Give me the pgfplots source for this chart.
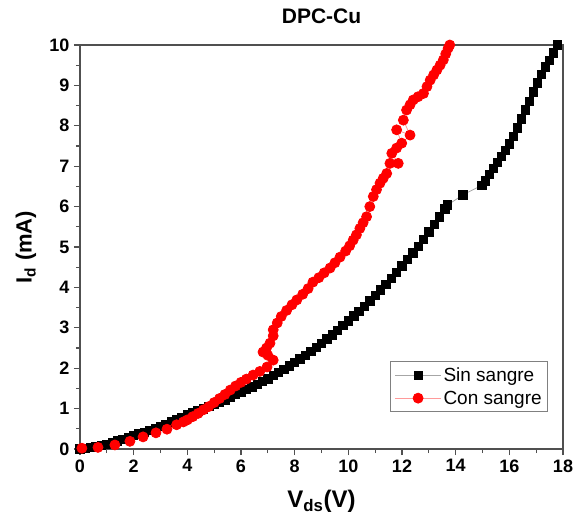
\documentclass[border=0pt]{standalone}
\usepackage{fontspec}
\setmainfont{Liberation Sans}
\usepackage{pgfplots}
\pgfplotsset{compat=1.18}

\definecolor{axisgray}{HTML}{505050}
\definecolor{linkred}{HTML}{FF9A9A}

\begin{document}
\begin{tikzpicture}
  \begin{axis}[
      name=ax,
      scale only axis,
      width=483pt, height=404pt,
      xmin=0, xmax=18, ymin=0, ymax=10,
      xtick={0,2,...,18}, ytick={0,1,...,10},
      minor x tick num=1, minor y tick num=1,
      tick pos=left, tick align=outside,
      major tick length=6pt, minor tick length=4pt,
      axis line style={axisgray, line width=1.2pt},
      every tick/.style={axisgray, line width=1.2pt},
      /pgf/number format/assume math mode=true,
      ticklabel style={font=\fontsize{18}{18}\selectfont\bfseries},
      xticklabel style={yshift=-1pt},
      yticklabel style={xshift=-1pt},
      title={DPC-Cu},
      title style={font=\fontsize{21}{21}\selectfont\bfseries,
        at={(axis description cs:0.5,1)}, anchor=center, yshift=23pt},
      xlabel={V\textsubscript{ds}(V)},
      xlabel style={font=\fontsize{24}{24}\selectfont\bfseries,
        at={(axis description cs:0.5,-0.13)}, anchor=center},
      ylabel={I\textsubscript{d} (mA)},
      ylabel style={font=\fontsize{22}{22}\selectfont\bfseries,
        at={(axis description cs:-0.112,0.5)}, anchor=center},
      legend style={at={(axis description cs:0.969,0.092)}, anchor=south east,
        draw=gray, line width=0.6pt, font=\fontsize{19}{19}\selectfont,
        row sep=4pt, inner sep=4pt},
      legend cell align=left,
      legend image code/.code={
        \draw[#1, mark repeat=2, mark phase=2] plot coordinates {(0pt,0pt) (23pt,0pt) (46pt,0pt)};
      },
    ]
    % Sin sangre
    \addplot[color=gray!70, line width=0.8pt, mark=square*,
      mark options={black, draw=black, fill=black}, mark size=4.2pt] coordinates {
      (0.0,0.00) (0.2,0.02) (0.4,0.04) (0.6,0.064) (0.8,0.092) (1.0,0.12)
      (1.2,0.16) (1.4,0.20) (1.6,0.244) (1.8,0.286) (2.0,0.33) (2.2,0.374)
      (2.4,0.418) (2.6,0.464) (2.8,0.512) (3.0,0.56) (3.2,0.616) (3.4,0.672)
      (3.6,0.728) (3.8,0.784) (4.0,0.84) (4.2,0.892) (4.4,0.944) (4.6,0.996)
      (4.8,1.048) (5.0,1.10) (5.2,1.16) (5.4,1.22) (5.6,1.282) (5.8,1.346)
      (6.0,1.41) (6.2,1.474) (6.4,1.538) (6.6,1.604) (6.8,1.672) (7.0,1.74)
      (7.2,1.816) (7.4,1.892) (7.6,1.972) (7.8,2.056) (8.0,2.14) (8.2,2.232)
      (8.4,2.324) (8.6,2.42) (8.8,2.52) (9.0,2.62) (9.2,2.724) (9.4,2.828)
      (9.6,2.938) (9.8,3.054) (10.0,3.17) (10.2,3.29) (10.4,3.41) (10.6,3.536)
      (10.8,3.668) (11.0,3.80) (11.2,3.94) (11.4,4.08) (11.6,4.226) (11.8,4.378)
      (12.0,4.53) (12.2,4.69) (12.4,4.85) (12.6,5.018) (12.8,5.194) (13.0,5.37)
      (13.2,5.558) (13.4,5.746) (13.6,5.94) (13.7,6.04) (14.27,6.29) (14.98,6.53)
      (15.1,6.64) (15.25,6.80) (15.4,6.95) (15.55,7.09) (15.7,7.24) (15.85,7.39)
      (16.0,7.55) (16.15,7.74) (16.3,7.95) (16.45,8.17) (16.6,8.39) (16.75,8.61)
      (16.9,8.84) (17.05,9.06) (17.2,9.27) (17.35,9.46) (17.5,9.62) (17.65,9.80)
      (17.8,10.0)
    };
    \addlegendentry{Sin sangre}
    % Con sangre
    \addplot[color=linkred, line width=0.8pt, mark=*,
      mark options={red, draw=red, fill=red}, mark size=5pt] coordinates {
      (0.07,0.02) (0.67,0.04) (1.3,0.10) (1.86,0.19) (2.35,0.30) (2.83,0.40)
      (3.24,0.49) (3.6,0.60) (3.85,0.67) (4.0,0.72) (4.2,0.80) (4.4,0.88)
      (4.6,0.97) (4.8,1.05) (5.0,1.15) (5.2,1.25) (5.4,1.35) (5.6,1.46)
      (5.8,1.56) (6.0,1.65) (6.2,1.73) (6.45,1.83) (6.7,1.92) (6.97,2.03)
      (7.2,2.20) (7.0,2.32) (6.82,2.40) (6.95,2.50) (7.08,2.62) (7.2,2.80)
      (7.2,2.95) (7.35,3.12) (7.5,3.28) (7.7,3.43) (7.9,3.57) (8.08,3.69)
      (8.3,3.83) (8.5,3.97) (8.68,4.13) (8.9,4.24) (9.1,4.36) (9.32,4.48)
      (9.5,4.61) (9.69,4.75) (9.9,4.90) (10.05,5.03) (10.18,5.17) (10.3,5.30)
      (10.43,5.46) (10.55,5.60) (10.68,5.75) (10.8,6.00) (10.93,6.25) (11.05,6.42)
      (11.18,6.58) (11.3,6.70) (11.43,6.82) (11.55,7.07) (11.86,7.07) (11.62,7.32)
      (11.8,7.45) (11.99,7.57) (11.8,7.90) (12.3,7.77) (12.05,8.14) (12.17,8.39)
      (12.3,8.52) (12.42,8.64) (12.6,8.72) (12.8,8.80) (12.93,8.97) (13.05,9.13)
      (13.18,9.26) (13.3,9.38) (13.42,9.50) (13.54,9.63) (13.63,9.78) (13.72,9.92)
      (13.78,10.0)
    };
    \addlegendentry{Con sangre}
  \end{axis}
  \pgfresetboundingbox
  \path[use as bounding box] ([xshift=-80pt,yshift=-72pt]ax.south west)
    rectangle ([xshift=11pt,yshift=45pt]ax.north east);
\end{tikzpicture}
\end{document}
